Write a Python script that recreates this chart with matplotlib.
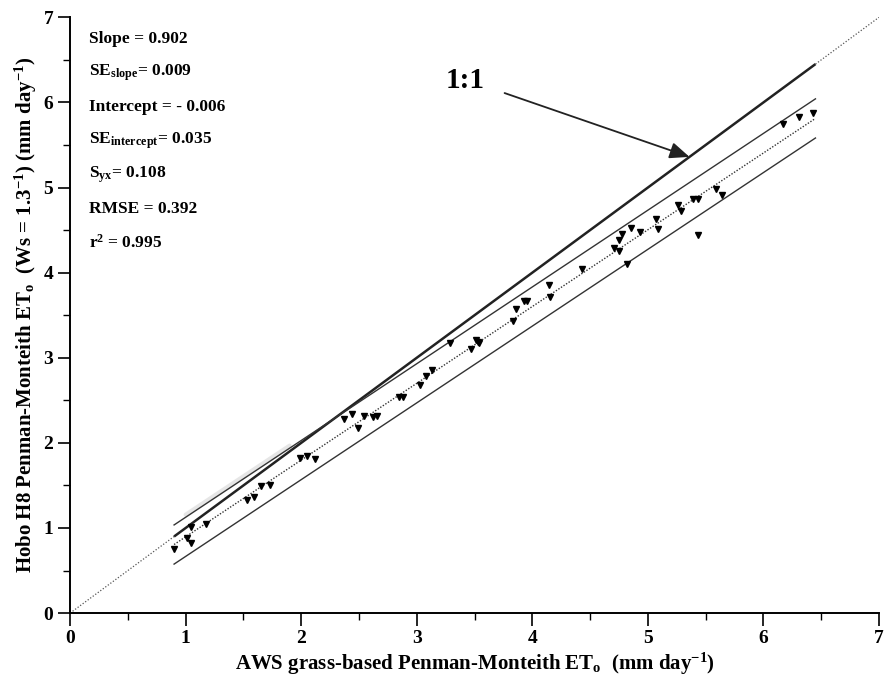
import matplotlib
matplotlib.use("Agg")
import matplotlib.pyplot as plt
from matplotlib.ticker import MultipleLocator
import numpy as np

plt.rcParams['font.family'] = ['Liberation Serif', 'DejaVu Serif']
plt.rcParams['font.weight'] = 'bold'
plt.rcParams['mathtext.fontset'] = 'custom'
plt.rcParams['mathtext.rm'] = 'Liberation Serif:bold'
plt.rcParams['mathtext.it'] = 'Liberation Serif:bold'
plt.rcParams['mathtext.bf'] = 'Liberation Serif:bold'

# Daily ETo pairs (mm/day): AWS reference vs Hobo H8 estimate
aws_eto = [0.90, 1.01, 1.05, 1.05, 1.18, 1.53, 1.59, 1.65, 1.73, 1.99,
           2.05, 2.12, 2.37, 2.44, 2.49, 2.54, 2.62, 2.66, 2.85, 2.88,
           3.03, 3.08, 3.13, 3.29, 3.47, 3.51, 3.54, 3.53, 3.83, 3.86,
           3.93, 3.95, 4.14, 4.15, 4.43, 4.71, 4.75, 4.75, 4.78, 4.85,
           4.82, 4.93, 5.07, 5.09, 5.26, 5.29, 5.39, 5.43, 5.43, 5.59,
           5.64, 6.17, 6.31, 6.43]
hobo_eto = [0.755, 0.88, 0.82, 1.01, 1.05, 1.33, 1.37, 1.49, 1.51, 1.82,
            1.84, 1.81, 2.28, 2.34, 2.18, 2.32, 2.30, 2.32, 2.54, 2.54,
            2.68, 2.78, 2.86, 3.17, 3.10, 3.21, 3.17, 3.19, 3.43, 3.57,
            3.67, 3.67, 3.85, 3.71, 4.04, 4.29, 4.26, 4.38, 4.45, 4.52,
            4.10, 4.48, 4.63, 4.51, 4.79, 4.73, 4.87, 4.86, 4.44, 4.98,
            4.91, 5.75, 5.83, 5.88]

# Regression statistics
slope = 0.902
intercept = -0.006
band_halfwidth = 0.23
fit_range = [0.9, 6.45]

stats_lines = [
    "Slope = 0.902",
    r"SE$_{\mathrm{slope}}$= 0.009",
    "Intercept = - 0.006",
    r"SE$_{\mathrm{intercept}}$= 0.035",
    r"S$_{\mathrm{yx}}$= 0.108",
    "RMSE = 0.392",
    r"r$^{2}$ = 0.995",
]

fig = plt.figure(figsize=(8.87, 6.92), dpi=100)
ax = fig.add_axes([0.079, 0.114, 0.912, 0.861])

# 1:1 line: dotted beyond the data range, solid across it
ax.plot([0, fit_range[0]], [0, fit_range[0]], ls=(0, (1, 1.5)), color='#555555', lw=0.9)
ax.plot([fit_range[1], 7], [fit_range[1], 7], ls=(0, (1, 1.5)), color='#555555', lw=0.9)
ax.plot(fit_range, fit_range, color='#222222', lw=1.8, solid_capstyle='butt')

# Regression line and prediction band
xf = np.array(fit_range)
yf = slope * xf + intercept
ax.plot(xf, yf, ls=(0, (1, 1.2)), color='#333333', lw=1.0)
ax.plot(xf, yf + band_halfwidth, color='#333333', lw=1.0)
ax.plot(xf, yf - band_halfwidth, color='#333333', lw=1.0)

# faint smear along the upper band at the low end
xs = np.array([1.0, 1.9])
ax.plot(xs, slope * xs + intercept + band_halfwidth + 0.03,
        color='#dcdcdc', lw=3, alpha=0.7, solid_capstyle='round', zorder=1)

# Observations
ax.plot(aws_eto, hobo_eto, ls='none', marker='v', ms=5, color='black', mec='black')

# 1:1 annotation
ax.text(3.25, 6.26, "1:1", fontsize=21, fontweight='bold', ha='left', va='center')
ax.annotate("", xy=(5.36, 5.36), xytext=(3.76, 6.11),
            arrowprops=dict(arrowstyle='-|>,head_length=1.2,head_width=0.5',
                            color='#222222', lw=1.3, shrinkA=0, shrinkB=0))

# Regression statistics block
y0 = 6.75
for i, line in enumerate(stats_lines):
    ax.text(0.16, y0 - i * 0.40, line, fontsize=12.5, fontweight='bold',
            ha='left', va='center')

ax.set_xlim(0, 7)
ax.set_ylim(0, 7)
ax.xaxis.set_major_locator(MultipleLocator(1))
ax.xaxis.set_minor_locator(MultipleLocator(0.5))
ax.yaxis.set_major_locator(MultipleLocator(1))
ax.yaxis.set_minor_locator(MultipleLocator(0.5))
ax.tick_params(which='major', direction='out', length=9, width=1.2, labelsize=14, pad=3)
ax.tick_params(which='minor', direction='out', length=5, width=1.0)
for lab in ax.get_xticklabels() + ax.get_yticklabels():
    lab.set_fontweight('bold')

for side in ('top', 'right'):
    ax.spines[side].set_visible(False)
for side in ('left', 'bottom'):
    ax.spines[side].set_linewidth(1.4)

ax.set_xlabel(r"AWS grass-based Penman-Monteith ET$_{\mathrm{o}}$  (mm day$^{-1}$)",
              fontsize=15, fontweight='bold', labelpad=3)
ax.set_ylabel(r"Hobo H8 Penman-Monteith ET$_{\mathrm{o}}$  (Ws = 1.3$^{-1}$) (mm day$^{-1}$)",
              fontsize=15, fontweight='bold', labelpad=3)

fig.savefig("out.png", dpi=100)
